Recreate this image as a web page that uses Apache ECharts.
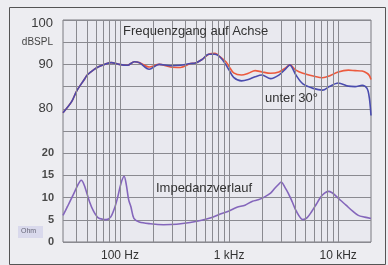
<!DOCTYPE html>
<html>
<head>
<meta charset="utf-8">
<script src="https://cdn.jsdelivr.net/npm/echarts@6/dist/echarts.min.js"></script>
<style>
  html, body { margin: 0; padding: 0; background: #ededf1; }
  #chart { width: 388px; height: 265px; }
</style>
</head>
<body>
<div id="chart"></div>
<script>
// frequency response (dB SPL) - on axis and 30 degrees off axis
const freqSpl = [30, 36, 40, 47, 50, 58, 65, 72, 83, 98, 117, 135, 150, 185, 228, 290, 358, 443, 490, 565, 650, 745, 830, 935,
  1000, 1100, 1300, 1500, 1730, 2000, 2400, 2860, 3300, 3600, 4100, 4750, 5900, 7200, 8300, 10000, 12400, 14300, 16600, 18400, 19300, 20000];
const splAxis = [79.1, 81.6, 84.0, 86.6, 87.6, 88.9, 89.6, 90.0, 90.4, 90.0, 89.8, 90.6, 90.4, 89.4, 90.0, 89.4, 89.3, 90.2, 90.3, 91.1, 92.3, 92.5, 91.7, 90.6,
  89.5, 88.1, 87.6, 88.0, 88.6, 88.3, 88.0, 88.3, 89.2, 89.9, 88.7, 88.0, 87.4, 87.0, 87.4, 88.3, 88.7, 88.6, 88.5, 88.0, 87.5, 86.6];
const spl30 = [79.1, 81.6, 84.0, 86.6, 87.6, 88.9, 89.6, 90.0, 90.4, 90.0, 89.8, 90.6, 90.4, 88.9, 90.0, 89.7, 89.8, 90.2, 90.3, 91.1, 92.3, 92.3, 91.6, 89.9,
  88.7, 87.1, 86.3, 86.6, 87.2, 87.6, 86.8, 87.6, 89.0, 89.9, 87.6, 85.6, 84.6, 84.2, 85.0, 85.8, 85.1, 85.0, 85.3, 84.6, 82.5, 78.5];

// impedance (Ohm)
const freqImp = [30, 33, 37, 41, 44, 47, 52.6, 57, 62.7, 70, 74.6, 82, 88.7, 95, 102, 109, 114, 120, 126, 134, 150, 190, 250, 330, 440, 560, 670, 830,
  1000, 1180, 1400, 1640, 1850, 2100, 2400, 2600, 2850, 3000, 3250, 3500, 3800, 4100, 4750, 5200, 5700, 6300, 6900, 7500, 8100, 8800, 9400,
  10500, 11800, 13500, 15300, 17500, 20000];
const impedance = [6.0, 8.0, 10.5, 12.8, 13.9, 12.8, 9.0, 7.0, 5.5, 5.1, 5.05, 5.6, 7.5, 10.0, 13.2, 14.8, 13.0, 9.5, 7.9, 5.3, 4.5, 4.1, 3.9, 4.0, 4.4, 4.9, 5.4, 6.3,
  7.0, 7.8, 8.3, 9.2, 9.5, 10.1, 11.0, 12.0, 13.0, 13.5, 12.3, 10.9, 9.0, 7.1, 5.05, 5.5, 6.8, 8.5, 10.1, 11.0, 11.4, 11.1, 10.5,
  9.4, 8.3, 7.0, 6.0, 5.6, 5.3];

// vertical grid lines between the borders
const gridFreqs = [40, 50, 60, 70, 80, 90, 100, 200, 300, 400, 500, 600, 700, 800, 900,
  1000, 2000, 3000, 4000, 5000, 6000, 7000, 8000, 9000, 10000];

const xLabels = { 100: '100 Hz', 1000: '1 kHz', 10000: '10 kHz' };
const splLabels = { 100: '{t|100}', 95: '{u|dBSPL}', 90: '90', 80: '80' };

const pair = (xs, ys) => xs.map((x, i) => [x, ys[i]]);

const myChart = echarts.init(document.getElementById('chart'));
const gridColor = '#8a8a90';

const option = {
  animation: false,
  backgroundColor: '#ededf1',
  grid: {
    left: 63, right: 17, top: 20, bottom: 23,
    show: true, backgroundColor: '#e9e9ef', borderColor: '#7a7a80', borderWidth: 1
  },
  xAxis: {
    type: 'log', logBase: 10, min: 30, max: 20000,
    axisLine: { show: false }, axisTick: { show: false }, splitLine: { show: false },
    axisLabel: {
      margin: 8, fontFamily: 'Liberation Sans', fontSize: 12, color: '#333',
      showMinLabel: false, showMaxLabel: false,
      formatter: v => xLabels[Math.round(v)] || ''
    }
  },
  yAxis: [
    {
      type: 'value', min: 50, max: 100, interval: 5, position: 'left',
      axisLine: { show: false }, axisTick: { show: false },
      splitLine: { show: true, lineStyle: { color: gridColor, width: 1 } },
      axisLabel: {
        margin: 10, fontFamily: 'Liberation Sans', fontSize: 13, color: '#3a3a3a',
        formatter: v => splLabels[v] || '',
        rich: {
          t: { fontFamily: 'Liberation Sans', fontSize: 13, color: '#3a3a3a', padding: [6, 0, 0, 0] },
          u: { fontFamily: 'Liberation Sans', fontSize: 10, color: '#444' }
        }
      }
    },
    {
      type: 'value', min: 0, max: 50, interval: 5, position: 'left',
      axisLine: { show: false }, axisTick: { show: false }, splitLine: { show: false },
      axisLabel: {
        margin: 9, fontFamily: 'Liberation Sans', fontSize: 11, fontWeight: 'bold', color: '#4a4a4a',
        formatter: v => (v <= 20 ? String(v) : '')
      }
    }
  ],
  graphic: [
    { type: 'rect', left: 7, top: 5, shape: { width: 376, height: 257 }, style: { fill: 'none', stroke: '#555', lineWidth: 1 }, z: 0 },
    { type: 'rect', left: 18, top: 226, shape: { width: 25, height: 12 }, style: { fill: '#d9d9ec' }, z: 10 },
    { type: 'text', left: 21, top: 228, style: { text: 'Ohm', fontFamily: 'Liberation Sans', fontSize: 7, fill: '#667' }, z: 11 },
    { type: 'text', left: 123, top: 25, style: { text: 'Frequenzgang auf Achse', fontFamily: 'Liberation Sans', fontSize: 13, fill: '#333' }, z: 20 },
    { type: 'text', left: 265, top: 92, style: { text: 'unter 30°', fontFamily: 'Liberation Sans', fontSize: 13, fill: '#333' }, z: 20 },
    { type: 'text', left: 156, top: 182, style: { text: 'Impedanzverlauf', fontFamily: 'Liberation Sans', fontSize: 13, fill: '#333' }, z: 20 }
  ],
  series: [
    {
      type: 'line', data: [], z: 1,
      markLine: {
        silent: true, symbol: ['none', 'none'], label: { show: false },
        lineStyle: { color: gridColor, width: 1, type: 'solid' },
        data: gridFreqs.map(f => ({ xAxis: f }))
      }
    },
    {
      name: 'Achse', type: 'line', yAxisIndex: 0, z: 3,
      data: pair(freqSpl, splAxis), smooth: 0.3, showSymbol: false,
      lineStyle: { color: '#ec5a3e', width: 1.6 }
    },
    {
      name: '30°', type: 'line', yAxisIndex: 0, z: 4,
      data: pair(freqSpl, spl30), smooth: 0.3, showSymbol: false,
      lineStyle: { color: '#4a4cae', width: 1.6 }
    },
    {
      name: 'Impedanz', type: 'line', yAxisIndex: 1, z: 3,
      data: pair(freqImp, impedance), smooth: 0.3, showSymbol: false,
      lineStyle: { color: '#8466bb', width: 1.6 }
    }
  ]
};

myChart.setOption(option);
</script>
</body>
</html>
